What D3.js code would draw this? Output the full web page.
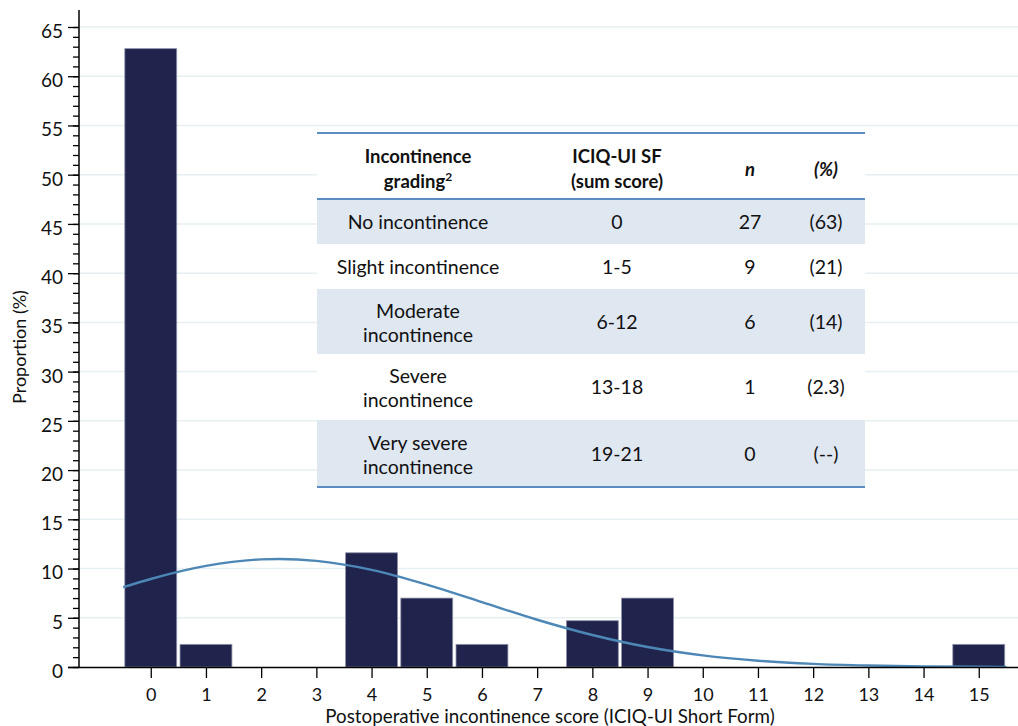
<!DOCTYPE html>
<html>
<head>
<meta charset="utf-8">
<script src="https://cdn.jsdelivr.net/npm/d3@7/dist/d3.min.js"></script>
<style>
  html, body { margin: 0; padding: 0; background: #fff; }
  svg { display: block; font-family: Lato, "Open Sans", sans-serif; }
</style>
</head>
<body>
<svg id="chart" width="1018" height="726"></svg>
<script>
// Histogram of postoperative ICIQ-UI SF scores (% of patients per score)
const scores      = [0, 1, 4, 5, 6, 8, 9, 15];
const proportions = [62.8, 2.3, 11.6, 7.0, 2.3, 4.7, 7.0, 2.3];

// Fitted normal curve, sampled along the score axis
const curveX = [-0.5, 0, 1, 2, 2.33, 3, 4, 5, 6, 7, 8, 9, 10, 11, 12, 13, 14, 15, 15.5];
const curveY = [8.1, 8.94, 10.27, 10.93, 10.97, 10.78, 9.87, 8.37, 6.59, 4.80, 3.25, 2.03, 1.18, 0.64, 0.32, 0.15, 0.06, 0.02, 0.01];

const xTicks = [0, 1, 2, 3, 4, 5, 6, 7, 8, 9, 10, 11, 12, 13, 14, 15];
const yTicks = [0, 5, 10, 15, 20, 25, 30, 35, 40, 45, 50, 55, 60, 65];

// Inset table of incontinence grades
const gradeLabels = [["No incontinence"], ["Slight incontinence"], ["Moderate", "incontinence"], ["Severe", "incontinence"], ["Very severe", "incontinence"]];
const gradeRanges = ["0", "1-5", "6-12", "13-18", "19-21"];
const gradeCounts = ["27", "9", "6", "1", "0"];
const gradePercents = ["(63)", "(21)", "(14)", "(2.3)", "(--)"];

const svg = d3.select("#chart");

const x = d3.scaleLinear().domain([-1.3, 15.7]).range([79, 1017.4]);
const y = d3.scaleLinear().domain([0, 65]).range([667, 27]);

// horizontal grid
svg.append("g").selectAll("line")
  .data(yTicks.filter(d => d > 0))
  .join("line")
  .attr("x1", 80).attr("x2", 1018)
  .attr("y1", d => y(d)).attr("y2", d => y(d))
  .attr("stroke", "#e6eff2").attr("stroke-width", 1.5);

// bars
const halfW = 0.47;
svg.append("g").selectAll("rect")
  .data(scores.map((s, i) => ({ s, v: proportions[i] })))
  .join("rect")
  .attr("x", d => x(d.s - halfW))
  .attr("width", d => x(d.s + halfW) - x(d.s - halfW))
  .attr("y", d => y(d.v))
  .attr("height", d => y(0) - y(d.v))
  .attr("fill", "#20244d")
  .attr("stroke", "#8d90a8")
  .attr("stroke-width", 0.8);

// normal curve
const line = d3.line()
  .x((d, i) => x(curveX[i]))
  .y(d => y(d))
  .curve(d3.curveMonotoneX);
svg.append("path")
  .datum(curveY)
  .attr("d", line)
  .attr("fill", "none")
  .attr("stroke", "#4d87b6")
  .attr("stroke-width", 2.4);

// y axis with minor ticks
const yAxisG = svg.append("g").attr("transform", "translate(79,0)");
yAxisG.call(d3.axisLeft(y).tickValues(d3.range(0, 66, 1)).tickSize(6).tickFormat(""))
  .call(g => g.select(".domain").remove())
  .call(g => g.selectAll("line").attr("stroke", "#000").attr("stroke-width", 1.3));
yAxisG.append("g")
  .call(d3.axisLeft(y).tickValues(yTicks).tickSize(11).tickPadding(5))
  .call(g => g.select(".domain").remove())
  .call(g => g.selectAll("line").attr("stroke", "#000").attr("stroke-width", 1.3))
  .call(g => g.selectAll("text").attr("font-family", "Lato, sans-serif").attr("font-size", 19).attr("fill", "#111").attr("dy", "0.55em"));
svg.append("line")
  .attr("x1", 79).attr("x2", 79).attr("y1", 10).attr("y2", 668)
  .attr("stroke", "#000").attr("stroke-width", 1.5);

// x axis
const xAxisG = svg.append("g").attr("transform", "translate(0,667)");
xAxisG.call(d3.axisBottom(x).tickValues(xTicks).tickSize(11).tickPadding(10))
  .call(g => g.select(".domain").remove())
  .call(g => g.selectAll("line").attr("stroke", "#000").attr("stroke-width", 1.3))
  .call(g => g.selectAll("text").attr("font-family", "Lato, sans-serif").attr("font-size", 18).attr("fill", "#111"));
svg.append("line")
  .attr("x1", 68).attr("x2", 1018).attr("y1", 667.5).attr("y2", 667.5)
  .attr("stroke", "#000").attr("stroke-width", 1.5);

// axis titles
svg.append("text")
  .attr("x", 550).attr("y", 723)
  .attr("text-anchor", "middle")
  .attr("font-size", 18.8).attr("fill", "#111")
  .text("Postoperative incontinence score (ICIQ-UI Short Form)");
svg.append("text")
  .attr("transform", "translate(26,347) rotate(-90)")
  .attr("text-anchor", "middle")
  .attr("font-size", 18).attr("fill", "#111")
  .text("Proportion (%)");

// inset table
const tbl = { left: 317, right: 865, top: 133, headBottom: 199 };
const rowTops = [199, 244, 289, 354, 420];
const rowBottoms = [244, 289, 354, 420, 487];
const colX = [418, 617, 750, 826];
const fs = 19.5;

const tg = svg.append("g");
tg.append("rect").attr("x", tbl.left).attr("y", tbl.top)
  .attr("width", tbl.right - tbl.left).attr("height", rowBottoms[4] - tbl.top).attr("fill", "#fff");
tg.selectAll("rect.row").data(rowTops).join("rect").attr("class", "row")
  .attr("x", tbl.left).attr("width", tbl.right - tbl.left)
  .attr("y", d => d).attr("height", (d, i) => rowBottoms[i] - d)
  .attr("fill", (d, i) => i % 2 === 0 ? "#dfe7f1" : "#ffffff");

[tbl.top, tbl.headBottom, rowBottoms[4]].forEach(yy => {
  tg.append("line").attr("x1", tbl.left).attr("x2", tbl.right).attr("y1", yy).attr("y2", yy)
    .attr("stroke", "#5b8cc2").attr("stroke-width", 2);
});

// header
const header = [
  { lines: ["Incontinence", "grading"], sup: true, x: colX[0], italic: false },
  { lines: ["ICIQ-UI SF", "(sum score)"], x: colX[1], italic: false },
  { lines: ["n"], x: colX[2], italic: true },
  { lines: ["(%)"], x: colX[3], italic: true }
];
header.forEach(h => {
  const t = tg.append("text").attr("text-anchor", "middle")
    .attr("font-size", 18.5).attr("font-weight", "bold").attr("fill", "#111")
    .attr("font-style", h.italic ? "italic" : "normal");
  if (h.lines.length === 2) {
    t.append("tspan").attr("x", h.x).attr("y", 163).text(h.lines[0]);
    t.append("tspan").attr("x", h.x).attr("y", 188).text(h.lines[1]);
    if (h.sup) t.append("tspan").attr("dy", -7).attr("font-size", 12).text("2");
  } else {
    t.attr("x", h.x).attr("y", 176).text(h.lines[0]);
  }
});

// body rows
gradeLabels.forEach((lab, i) => {
  const mid = (rowTops[i] + rowBottoms[i]) / 2;
  const t = tg.append("text").attr("text-anchor", "middle").attr("font-size", fs).attr("fill", "#111");
  if (lab.length === 1) {
    t.attr("x", colX[0]).attr("y", mid + 7).text(lab[0]);
  } else {
    t.append("tspan").attr("x", colX[0]).attr("y", mid - 4).text(lab[0]);
    t.append("tspan").attr("x", colX[0]).attr("y", mid + 20).text(lab[1]);
  }
  [gradeRanges[i], gradeCounts[i], gradePercents[i]].forEach((v, j) => {
    tg.append("text").attr("x", colX[j + 1]).attr("y", mid + 7)
      .attr("text-anchor", "middle").attr("font-size", fs).attr("fill", "#111").text(v);
  });
});
</script>
</body>
</html>
